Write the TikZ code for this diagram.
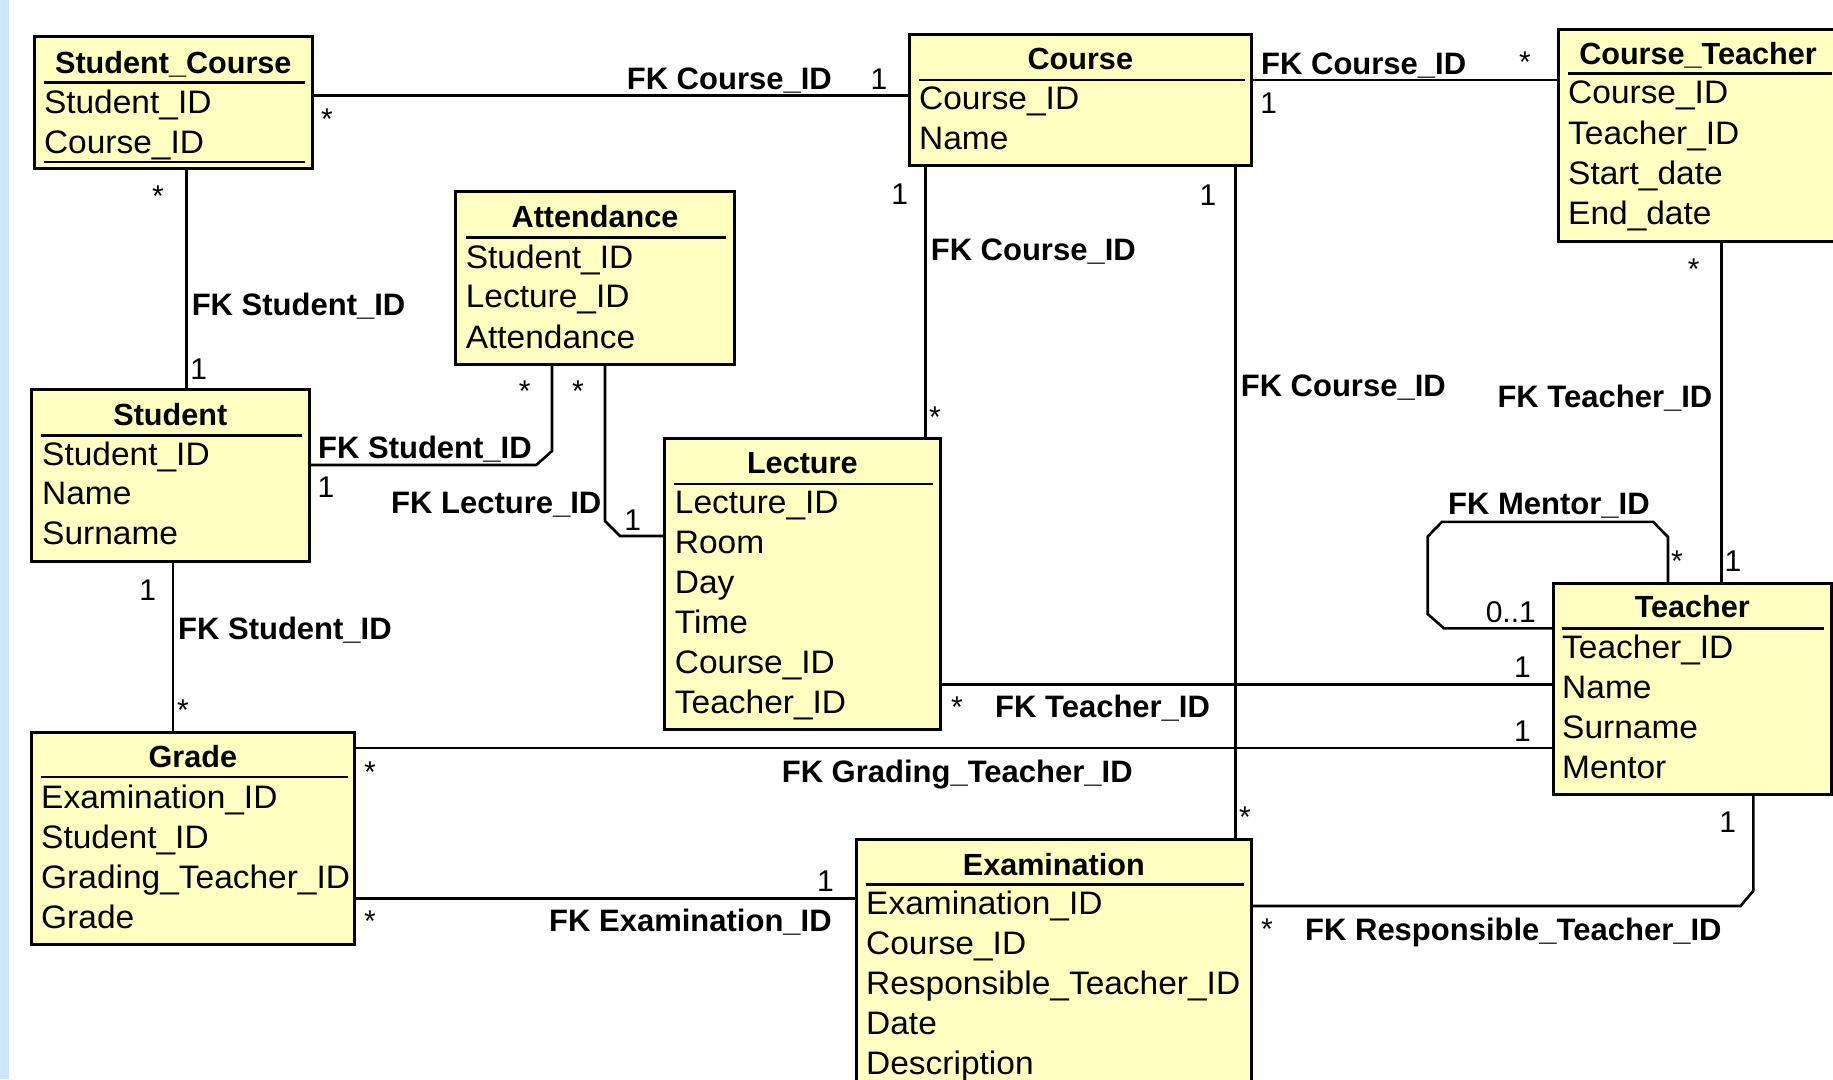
\documentclass[tikz,border=0pt]{standalone}
\usepackage{fontspec}
\setmainfont{Liberation Sans}
\newfontfamily\attrfont[FakeStretch=1.03]{Liberation Sans}
\definecolor{boxyellow}{RGB}{255,255,192}
\definecolor{stripblue}{RGB}{204,230,255}
\tikzset{
 tbl/.style={draw=black, line width=3pt, fill=boxyellow, inner sep=0pt, outer sep=0pt, anchor=north west},
 ttl/.style={anchor=base, inner sep=0pt, font=\fontsize{30.6}{36}\selectfont\bfseries},
 attr/.style={anchor=base west, inner sep=0pt, font=\attrfont\fontsize{32.5}{38}\selectfont},
 hdr/.style={line width=2.8pt},
 conn/.style={line width=2.6pt},
 fk/.style={inner sep=0pt, font=\fontsize{31}{36}\selectfont\bfseries},
 fkl/.style={fk, anchor=base west},
 fkr/.style={fk, anchor=base east},
 mult/.style={anchor=base, inner sep=0pt, font=\fontsize{30}{36}\selectfont},
}
\begin{document}
\begin{tikzpicture}[x=1pt, y=-1pt]
\useasboundingbox (0,0) rectangle (1833,1079);
\clip (0,0) rectangle (1833,1079);
\fill[white] (0,0) rectangle (1833,1079);
\fill[stripblue] (0,0) rectangle (8.8,1079);

% ---------- tables ----------
% Student_Course
\node[tbl, minimum width=278.5pt, minimum height=132.3pt] (sc) at (34,36.5) {};
\node[ttl] (sct) at (173.3,73) {Student\_Course};
\draw[hdr] (43.8,82.7) -- (305,82.7);
\node[attr] (sc1) at (43.8,113) {Student\_ID};
\node[attr] (sc2) at (43.8,153) {Course\_ID};
\draw[hdr] (43.8,162) -- (305,162);

% Course
\node[tbl, minimum width=341.4pt, minimum height=130.9pt] (course) at (909.6,34.4) {};
\node[ttl] (courset) at (1080.3,69) {Course};
\draw[hdr] (919,80) -- (1244.6,80);
\node[attr] (course1) at (919,109.5) {Course\_ID};
\node[attr] (course2) at (919,149) {Name};

% Course_Teacher
\node[tbl, minimum width=282pt, minimum height=211.7pt] (ct) at (1558,29.3) {};
\node[ttl] (ctt) at (1698,64.7) {Course\_Teacher};
\draw[hdr] (1568,73.4) -- (1832,73.4);
\node[attr] (ct1) at (1568,103) {Course\_ID};
\node[attr] (ct2) at (1568,144) {Teacher\_ID};
\node[attr] (ct3) at (1568,184) {Start\_date};
\node[attr] (ct4) at (1568,224) {End\_date};

% Attendance
\node[tbl, minimum width=278.6pt, minimum height=172.2pt] (att) at (455.7,191.8) {};
\node[ttl] (attt) at (595,227) {Attendance};
\draw[hdr] (465.6,237.6) -- (726,237.6);
\node[attr] (att1) at (465.6,268) {Student\_ID};
\node[attr] (att2) at (465.6,307.5) {Lecture\_ID};
\node[attr] (att3) at (465.6,348) {Attendance};

% Student
\node[tbl, minimum width=278.6pt, minimum height=171.4pt] (stu) at (31,389.9) {};
\node[ttl] (stut) at (170.3,425) {Student};
\draw[hdr] (41,435.7) -- (302,435.7);
\node[attr] (stu1) at (42,465) {Student\_ID};
\node[attr] (stu2) at (42,504.5) {Name};
\node[attr] (stu3) at (42,544) {Surname};

% Lecture
\node[tbl, minimum width=276.6pt, minimum height=291pt] (lec) at (664,438) {};
\node[ttl] (lect) at (802.3,473.5) {Lecture};
\draw[hdr] (674,484) -- (933,484);
\node[attr] (lec1) at (674.7,513) {Lecture\_ID};
\node[attr] (lec2) at (674.7,553) {Room};
\node[attr] (lec3) at (674.7,593) {Day};
\node[attr] (lec4) at (674.7,633) {Time};
\node[attr] (lec5) at (674.7,673) {Course\_ID};
\node[attr] (lec6) at (674.7,713) {Teacher\_ID};

% Teacher
\node[tbl, minimum width=277.6pt, minimum height=211.4pt] (teach) at (1553.4,583) {};
\node[ttl] (teacht) at (1692.3,617) {Teacher};
\draw[hdr] (1562,628.4) -- (1824,628.4);
\node[attr] (teach1) at (1562,658) {Teacher\_ID};
\node[attr] (teach2) at (1562,698) {Name};
\node[attr] (teach3) at (1562,738) {Surname};
\node[attr] (teach4) at (1562,778) {Mentor};

% Grade
\node[tbl, minimum width=323.6pt, minimum height=211.5pt] (grade) at (31,732.5) {};
\node[ttl] (gradet) at (192.8,767) {Grade};
\draw[hdr] (41,777) -- (348,777);
\node[attr] (grade1) at (41,808) {Examination\_ID};
\node[attr] (grade2) at (41,848) {Student\_ID};
\node[attr] (grade3) at (41,888) {Grading\_Teacher\_ID};
\node[attr] (grade4) at (41,928) {Grade};

% Examination
\node[tbl, minimum width=394.5pt, minimum height=270pt] (exam) at (856.5,839) {};
\node[ttl] (examt) at (1053.8,875) {Examination};
\draw[hdr] (866,884.8) -- (1244,884.8);
\node[attr] (exam1) at (866,914.7) {Examination\_ID};
\node[attr] (exam2) at (866,954) {Course\_ID};
\node[attr] (exam3) at (866,994) {Responsible\_Teacher\_ID};
\node[attr] (exam4) at (866,1034) {Date};
\node[attr] (exam5) at (866,1074) {Description};

% ---------- connectors ----------
% Student_Course -- Course
\draw[conn] (sc.east |- 0,95.7) -- (course.west |- 0,95.7);
\node[fkr] (l1) at (832,89) {FK Course\_ID};
\node[mult] (m1a) at (879,89) {1};
\node[mult] (m1b) at (327,129) {*};

% Student_Course -- Student
\draw[conn] (sc.south -| 186.4,0) -- (stu.north -| 186.4,0);
\node[fkl] (l2) at (191.6,315) {FK Student\_ID};
\node[mult] (m2a) at (158,206) {*};
\node[mult] (m2b) at (198.6,379) {1};

% Student -- Attendance
\draw[conn] (stu.east |- 0,465) -- (536.3,465) -- (552,451) -- (att.south -| 552,0);
\node[fkl] (l3) at (318,458) {FK Student\_ID};
\node[mult] (m3a) at (326,497) {1};
\node[mult] (m3b) at (524.6,401) {*};

% Attendance -- Lecture
\draw[conn] (att.south -| 605,0) -- (605,521) -- (620,536) -- (lec.west |- 0,536);
\node[fkl] (l4) at (391,513) {FK Lecture\_ID};
\node[mult] (m4a) at (632.7,530) {1};
\node[mult] (m4b) at (578,401) {*};

% Course -- Lecture
\draw[conn] (course.south -| 925.4,0) -- (lec.north -| 925.4,0);
\node[fkl] (l5) at (930.6,260) {FK Course\_ID};
\node[mult] (m5a) at (899.7,204) {1};
\node[mult] (m5b) at (935,427) {*};

% Course -- Examination
\draw[conn] (course.south -| 1235.3,0) -- (exam.north -| 1235.3,0);
\node[fkl] (l6) at (1240.6,396) {FK Course\_ID};
\node[mult] (m6a) at (1208,205) {1};
\node[mult] (m6b) at (1245,827) {*};

% Course -- Course_Teacher
\draw[conn] (course.east |- 0,80) -- (ct.west |- 0,80);
\node[fkl] (l7) at (1261,74) {FK Course\_ID};
\node[mult] (m7a) at (1268.6,113) {1};
\node[mult] (m7b) at (1525,72) {*};

% Course_Teacher -- Teacher
\draw[conn] (ct.south -| 1721.3,0) -- (teach.north -| 1721.3,0);
\node[fkr] (l8) at (1712.5,407) {FK Teacher\_ID};
\node[mult] (m8a) at (1733,571) {1};
\node[mult] (m8b) at (1693.8,279) {*};

% Teacher mentor self loop
\draw[conn] (teach.north -| 1668,0) -- (1668,537) -- (1653,521.8) -- (1442,521.8) -- (1427.7,536.5)
  -- (1427.7,614) -- (1444,628.4) -- (teach.west |- 0,628.4);
\node[fkl] (l9) at (1448,514) {FK Mentor\_ID};
\node[mult] (m9a) at (1677,571) {*};
\node[mult, anchor=base east] (m9b) at (1536,622) {0..1};

% Lecture -- Teacher
\draw[conn] (lec.east |- 0,684.4) -- (teach.west |- 0,684.4);
\node[fkl] (l10) at (995,717) {FK Teacher\_ID};
\node[mult] (m10a) at (1522.4,677) {1};
\node[mult] (m10b) at (957,717) {*};

% Grade -- Teacher
\draw[conn] (grade.east |- 0,748) -- (teach.west |- 0,748);
\node[fkl] (l11) at (781.6,782) {FK Grading\_Teacher\_ID};
\node[mult] (m11a) at (1522.4,741) {1};
\node[mult] (m11b) at (370,782) {*};

% Grade -- Examination
\draw[conn] (grade.east |- 0,898.6) -- (exam.west |- 0,898.6);
\node[fkl] (l12) at (549,931) {FK Examination\_ID};
\node[mult] (m12a) at (825.5,891) {1};
\node[mult] (m12b) at (370,931) {*};

% Examination -- Teacher
\draw[conn] (exam.east |- 0,906) -- (1740.5,906) -- (1753.4,890.7) -- (teach.south -| 1753.4,0);
\node[fkl] (l13) at (1305,940) {FK Responsible\_Teacher\_ID};
\node[mult] (m13a) at (1727.7,832) {1};
\node[mult] (m13b) at (1267,939) {*};

% Student -- Grade
\draw[conn] (stu.south -| 173,0) -- (grade.north -| 173,0);
\node[fkl] (l14) at (178,639) {FK Student\_ID};
\node[mult] (m14a) at (147.8,600) {1};
\node[mult] (m14b) at (183,720) {*};
\end{tikzpicture}
\end{document}
